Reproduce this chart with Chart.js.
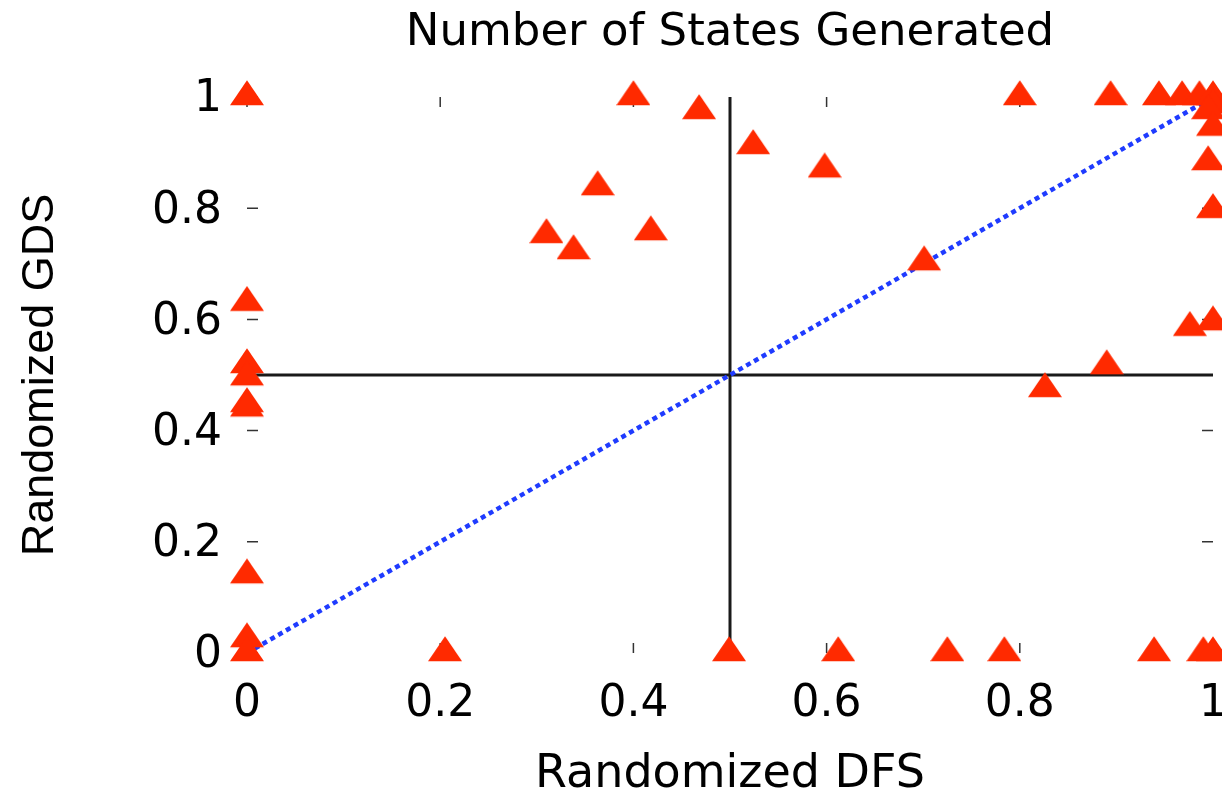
<!DOCTYPE html>
<html>
<head>
<meta charset="utf-8">
<script src="https://cdn.jsdelivr.net/npm/chart.js@4.4.1/dist/chart.umd.min.js"></script>
<style>
  html, body { margin: 0; padding: 0; background: #fff; }
</style>
</head>
<body>
<canvas id="chart" width="1222" height="793"></canvas>
<script>
// Randomized DFS (x) vs Randomized GDS (y), one point per problem
const dfsValues = [0, 0.40, 0.468, 0.524, 0.598, 0.363, 0.31, 0.338, 0.418,
  0.80, 0.894, 0.944, 0.968, 0.986, 1, 1, 0.995, 1, 0.995, 1,
  0.701, 0.826, 0.89, 0.976, 1,
  0, 0, 0, 0, 0, 0, 0, 0,
  0.205, 0.499, 0.612, 0.725, 0.784, 0.939, 0.99, 1];
const gdsValues = [1, 1, 0.975, 0.912, 0.87, 0.838, 0.752, 0.723, 0.757,
  1, 1, 1, 1, 1, 1, 0.985, 0.975, 0.945, 0.883, 0.797,
  0.703, 0.475, 0.516, 0.585, 0.595,
  0.63, 0.518, 0.496, 0.448, 0.44, 0.14, 0.025, 0,
  0, 0, 0, 0, 0, 0, 0, 0];

const tickValues = [0, 0.2, 0.4, 0.6, 0.8, 1];
const tickLabels = ['0', '0.2', '0.4', '0.6', '0.8', '1'];

const vLineX = [0.5, 0.5], vLineY = [0, 1];
const hLineX = [0, 1], hLineY = [0.5, 0.5];
const diagX = [0, 1], diagY = [0, 1];

const toPoints = (xs, ys) => xs.map((x, i) => ({ x, y: ys[i] }));

// flat gnuplot-style filled triangle, centroid at the image centre
function makeTriangle() {
    const c = document.createElement('canvas');
    c.width = 34; c.height = 34;
    const g = c.getContext('2d');
    g.fillStyle = '#ff2a00';
    g.beginPath();
    g.moveTo(17, 0.3);
    g.lineTo(34, 25.3);
    g.lineTo(0, 25.3);
    g.closePath();
    g.fill();
    return c;
}

// small inward tick marks on all four sides
const mirrorTicks = {
    id: 'mirrorTicks',
    beforeDatasetsDraw(chart) {
        const { ctx, chartArea: a, scales: { x, y } } = chart;
        ctx.save();
        ctx.strokeStyle = '#333';
        ctx.lineWidth = 1.5;
        ctx.beginPath();
        tickValues.forEach(v => {
            const px = x.getPixelForValue(v);
            const py = y.getPixelForValue(v);
            ctx.moveTo(px, a.top); ctx.lineTo(px, a.top + 10);
            ctx.moveTo(px, a.bottom); ctx.lineTo(px, a.bottom - 10);
            ctx.moveTo(a.left, py); ctx.lineTo(a.left + 11, py);
            ctx.moveTo(a.right, py); ctx.lineTo(a.right - 11, py);
        });
        ctx.stroke();
        ctx.restore();
    }
};

const fixTicks = scale => { scale.ticks = tickValues.map(v => ({ value: v })); };

new Chart(document.getElementById('chart'), {
    type: 'scatter',
    data: {
        datasets: [
            {
                data: toPoints(dfsValues, gdsValues),
                pointStyle: makeTriangle(),
                pointRadius: 17,
                clip: false,
                order: 0
            },
            {
                type: 'line', data: toPoints(vLineX, vLineY),
                borderColor: '#1a1a1a', borderWidth: 3, pointRadius: 0, order: 2
            },
            {
                type: 'line', data: toPoints(hLineX, hLineY),
                borderColor: '#1a1a1a', borderWidth: 3, pointRadius: 0, order: 2
            },
            {
                type: 'line', data: toPoints(diagX, diagY),
                borderColor: '#1f3bff', borderWidth: 4.5, borderDash: [5, 4],
                pointRadius: 0, order: 1
            }
        ]
    },
    options: {
        responsive: false,
        animation: false,
        layout: { autoPadding: false, padding: { left: 0, right: 9, top: 0, bottom: 0 } },
        plugins: {
            legend: { display: false },
            tooltip: { enabled: false },
            title: {
                display: true,
                text: 'Number of States Generated',
                fullSize: false,
                color: '#000',
                font: { family: 'DejaVu Sans', size: 45, weight: 'normal', lineHeight: 1.2 },
                padding: { top: 6, bottom: 37 }
            }
        },
        scales: {
            x: {
                type: 'linear', min: 0, max: 1,
                grid: { display: false, drawTicks: false },
                border: { display: false },
                afterBuildTicks: fixTicks,
                afterFit: s => { s.height = 140; s.paddingLeft = 0; s.paddingRight = 0; },
                ticks: {
                    color: '#000', padding: 25,
                    font: { family: 'DejaVu Sans', size: 44 },
                    callback: (v, i) => tickLabels[i]
                },
                title: {
                    display: true, text: 'Randomized DFS', color: '#000',
                    font: { family: 'DejaVu Sans', size: 46, lineHeight: 0.76 },
                    padding: 0
                }
            },
            y: {
                type: 'linear', min: 0, max: 1,
                grid: { display: false, drawTicks: false },
                border: { display: false },
                afterBuildTicks: fixTicks,
                afterFit: s => { s.width = 247; s.paddingTop = 0; s.paddingBottom = 0; },
                ticks: {
                    color: '#000', padding: 25, labelOffset: 3,
                    font: { family: 'DejaVu Sans', size: 44 },
                    callback: (v, i) => tickLabels[i]
                },
                title: {
                    display: true, text: 'Randomized GDS', color: '#000',
                    font: { family: 'Liberation Sans', size: 45, lineHeight: 1 },
                    padding: { top: 18, bottom: 0 }
                }
            }
        }
    },
    plugins: [mirrorTicks]
});
</script>
</body>
</html>
